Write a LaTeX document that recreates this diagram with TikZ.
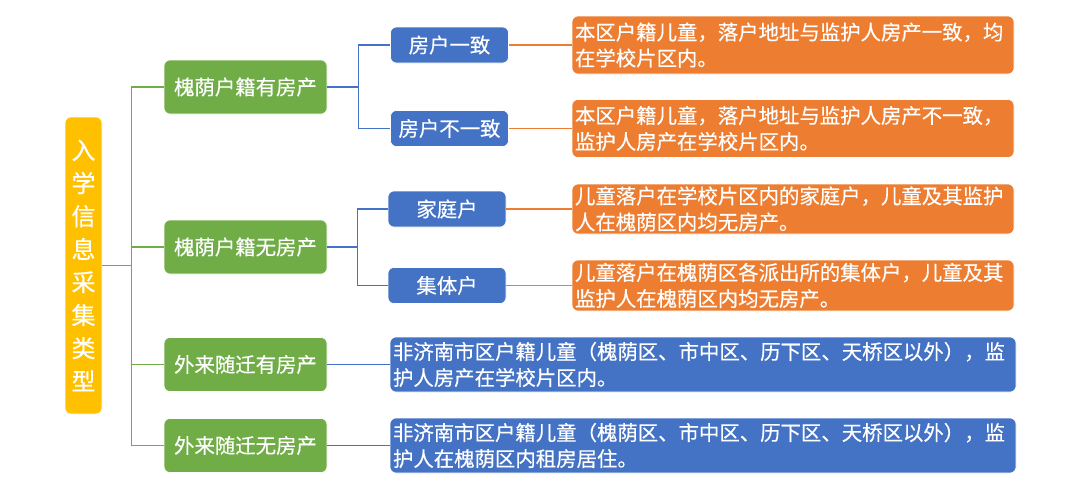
\documentclass[tikz,border=0pt]{standalone}
\usepackage{fontspec}
\setmainfont{Noto Sans CJK SC}[FakeBold=0.4]
\definecolor{rootyellow}{HTML}{FFC000}
\definecolor{catgreen}{HTML}{70AD47}
\definecolor{subblue}{HTML}{4472C4}
\definecolor{noteorange}{HTML}{ED7D31}

\begin{document}
\begin{tikzpicture}[x=1pt, y=-1pt,
		box/.style={rounded corners=6pt, draw=white, line width=0.6pt, text=white, inner sep=0pt,
			font=\fontsize{20.4}{26}\selectfont},
		catbox/.style={box, fill=catgreen, minimum width=163pt, minimum height=54pt},
		subbox/.style={box, fill=subblue, minimum width=118pt, minimum height=36pt},
		notebox/.style={box, fill=noteorange, text width=436pt, inner xsep=3pt, align=left},
		widebox/.style={box, fill=subblue, text width=620pt, inner xsep=3pt, align=left, minimum height=55pt},
		greenline/.style={catgreen, line width=1.3pt},
		blueline/.style={subblue, line width=1.3pt},
		orangeline/.style={noteorange, line width=1.3pt}]
		\useasboundingbox (0,0) rectangle (1080,488);
		\node[box, fill=rootyellow, minimum width=37pt, minimum height=297pt, align=center,
			font=\fontsize{24}{33}\selectfont] (root) at (83.5,265.5) {入\\学\\信\\息\\采\\集\\类\\型};
		\node[catbox] (hasown) at (245.5,87) {槐荫户籍有房产};
		\node[catbox] (noown) at (245.5,247) {槐荫户籍无房产};
		\node[catbox] (inown) at (245.5,364.5) {外来随迁有房产};
		\node[catbox] (inrent) at (245.5,445.5) {外来随迁无房产};
		\node[subbox] (same) at (449.5,45) {房户一致};
		\node[subbox] (differ) at (449.5,128.5) {房户不一致};
		\node[subbox] (family) at (447,209) {家庭户};
		\node[subbox] (group) at (447,285.5) {集体户};
		\node[notebox, minimum height=58pt] (samenote) at (793,45) {本区户籍儿童，落户地址与监护人房产一致，均\\在学校片区内。};
		\node[notebox, minimum height=58pt] (differnote) at (793,128.5) {本区户籍儿童，落户地址与监护人房产不一致，\\监护人房产在学校片区内。};
		\node[notebox, minimum height=50pt] (familynote) at (793,209) {儿童落户在学校片区内的家庭户，儿童及其监护\\人在槐荫区内均无房产。};
		\node[notebox, minimum height=51pt] (groupnote) at (793,285.5) {儿童落户在槐荫区各派出所的集体户，儿童及其\\监护人在槐荫区内均无房产。};
		\node[widebox] (inownnote) at (703,364.5) {非济南市区户籍儿童（槐荫区、市中区、历下区、天桥区以外），监\\护人房产在学校片区内。};
		\node[widebox] (inrentnote) at (703,445.5) {非济南市区户籍儿童（槐荫区、市中区、历下区、天桥区以外），监\\护人在槐荫区内租房居住。};
		\foreach \c in {hasown, noown, inown, inrent} \draw[greenline] (root.east) -- ++(29.5,0) |- (\c.west);
		\foreach \s in {same, differ} \draw[blueline] (hasown.east) -- ++(31,0) |- (\s.west);
		\foreach \s in {family, group} \draw[blueline] (noown.east) -- ++(30,0) |- (\s.west);
		\draw[blueline] (inown) -- (inownnote);
		\draw[blueline] (inrent) -- (inrentnote);
		\draw[orangeline] (same) -- (samenote);
		\draw[orangeline] (differ) -- (differnote);
		\draw[orangeline] (family) -- (familynote);
		\draw[orangeline] (group) -- (groupnote);
	\end{tikzpicture}
\end{document}
